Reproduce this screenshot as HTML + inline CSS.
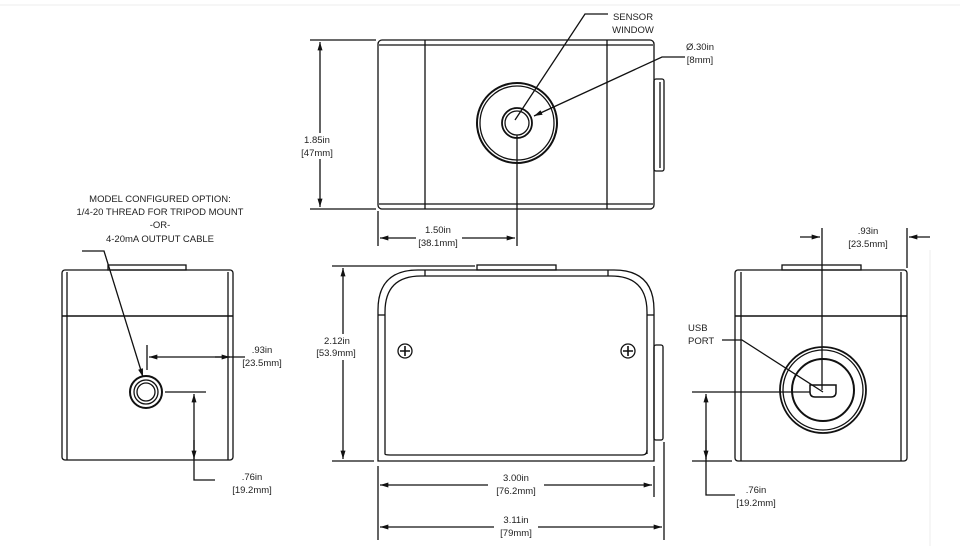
<!DOCTYPE html>
<html><head><meta charset="utf-8"><style>
html,body{margin:0;padding:0;background:#fff}
svg{display:block}
text{font-family:"Liberation Sans",Arial,sans-serif;font-size:9.5px;fill:#222}
</style></head><body>
<svg width="960" height="546" viewBox="0 0 960 546" xmlns="http://www.w3.org/2000/svg">
<defs>
<marker id="a" viewBox="0 0 10 6" refX="10" refY="3" markerWidth="9" markerHeight="5" orient="auto-start-reverse" markerUnits="userSpaceOnUse"><path d="M0,0L10,3L0,6z" fill="#111"/></marker>
</defs>
<g fill="none" stroke="#111" stroke-width="1.3">
<!-- TOP VIEW -->
<rect x="378" y="40" width="276" height="169" rx="4"/>
<line x1="379" y1="45" x2="653" y2="45"/>
<line x1="379" y1="204" x2="653" y2="204"/>
<line x1="425" y1="40" x2="425" y2="209"/>
<line x1="607" y1="40" x2="607" y2="209"/>
<rect x="654" y="79" width="10" height="92" rx="2"/>
<line x1="660" y1="82" x2="660" y2="168"/>
<circle cx="517" cy="123" r="40" stroke-width="2"/>
<circle cx="517" cy="123" r="37"/>
<circle cx="517" cy="123" r="15" stroke-width="1.8"/>
<circle cx="517" cy="123" r="12"/>
<!-- top dims -->
<line x1="310" y1="40" x2="376" y2="40"/>
<line x1="310" y1="209" x2="376" y2="209"/>
<line x1="320" y1="42" x2="320" y2="207" marker-start="url(#a)" marker-end="url(#a)"/>
<line x1="378" y1="211" x2="378" y2="246"/>
<line x1="517" y1="135" x2="517" y2="246"/>
<line x1="380" y1="238" x2="515" y2="238" marker-start="url(#a)" marker-end="url(#a)"/>
<polyline points="515,120 585,14 608,14"/>
<polyline points="685,57 662,57 534,116" marker-end="url(#a)"/>
<!-- FRONT VIEW -->
<path d="M378,461 L378,310 Q378,270 418,270 L614,270 Q654,270 654,310 L654,461 Z"/>
<path d="M385,454 L385,312 Q385,276 421,276 L611,276 Q647,276 647,312 L647,454"/>
<path d="M385,454 Q385,455 390,455 L642,455 Q647,455 647,450"/>
<line x1="378" y1="315" x2="385" y2="315"/>
<line x1="647" y1="315" x2="654" y2="315"/>
<line x1="425" y1="270" x2="425" y2="276"/>
<line x1="608" y1="270" x2="608" y2="276"/>
<rect x="477" y="265" width="79" height="5"/>
<rect x="654" y="345" width="9" height="95" rx="2"/>
<circle cx="405" cy="351" r="7"/><path d="M400,351h10M405,346v10" stroke-width="1.6"/>
<circle cx="628" cy="351" r="7"/><path d="M623,351h10M628,346v10" stroke-width="1.6"/>
<line x1="332" y1="266" x2="475" y2="266"/>
<line x1="332" y1="461" x2="374" y2="461"/>
<line x1="343" y1="268" x2="343" y2="459" marker-start="url(#a)" marker-end="url(#a)"/>
<line x1="378" y1="466" x2="378" y2="540"/>
<line x1="654" y1="466" x2="654" y2="497"/>
<line x1="664" y1="442" x2="664" y2="540"/>
<line x1="380" y1="485" x2="652" y2="485" marker-start="url(#a)" marker-end="url(#a)"/>
<line x1="380" y1="527" x2="662" y2="527" marker-start="url(#a)" marker-end="url(#a)"/>
<!-- LEFT VIEW -->
<rect x="62" y="270" width="171" height="190" rx="3"/>
<line x1="67" y1="272" x2="67" y2="460"/>
<line x1="228" y1="272" x2="228" y2="460"/>
<line x1="62" y1="316" x2="233" y2="316" stroke-width="1.6"/>
<rect x="108" y="265" width="78" height="5"/>
<circle cx="146" cy="392" r="16" stroke-width="2"/>
<circle cx="146" cy="392" r="12"/>
<circle cx="146" cy="392" r="9"/>
<polyline points="82,251 104,251 143,377" marker-end="url(#a)"/>
<line x1="147" y1="345" x2="147" y2="370"/>
<line x1="149" y1="357" x2="245" y2="357" marker-start="url(#a)"/>
<line x1="215" y1="357" x2="230" y2="357" marker-end="url(#a)"/>
<line x1="165" y1="392" x2="206" y2="392"/>
<polyline points="215,480 194,480 194,394" marker-end="url(#a)"/>
<line x1="194" y1="440" x2="194" y2="459" marker-end="url(#a)"/>
<!-- RIGHT VIEW -->
<rect x="735" y="270" width="172" height="191" rx="3"/>
<line x1="741" y1="272" x2="741" y2="461"/>
<line x1="901" y1="272" x2="901" y2="461"/>
<line x1="735" y1="316" x2="907" y2="316" stroke-width="1.6"/>
<rect x="782" y="265" width="79" height="5"/>
<circle cx="823" cy="390" r="43" stroke-width="1.8"/>
<circle cx="823" cy="390" r="40"/>
<circle cx="823" cy="390" r="31" stroke-width="2"/>
<path d="M810,385 h26 v7 q0,5 -5,5 h-16 q-5,0 -5,-5 z" stroke-width="1.5"/>
<line x1="822" y1="228" x2="822" y2="390"/>
<line x1="907" y1="228" x2="907" y2="268"/>
<line x1="800" y1="237" x2="820" y2="237" marker-end="url(#a)"/>
<line x1="930" y1="237" x2="909" y2="237" marker-end="url(#a)"/>
<polyline points="722,340 742,340 823,392"/>
<line x1="692" y1="392" x2="810" y2="392"/>
<line x1="692" y1="461" x2="732" y2="461"/>
<polyline points="735,495 706,495 706,394" marker-end="url(#a)"/>
<line x1="706" y1="440" x2="706" y2="459" marker-end="url(#a)"/>
</g>
<g stroke="#eee" stroke-width="1"><line x1="0" y1="5" x2="960" y2="5"/><line x1="930" y1="250" x2="930" y2="546"/></g>
<g fill="#fff">
<rect x="302" y="133" width="32" height="26"/>
<rect x="416" y="226" width="46" height="24"/>
<rect x="316" y="334" width="42" height="26"/>
<rect x="488" y="472" width="56" height="26"/>
<rect x="494" y="514" width="44" height="26"/>
</g>
<g text-anchor="middle">
<text x="317" y="143">1.85in</text><text x="317" y="156">[47mm]</text>
<text x="438" y="233">1.50in</text><text x="438" y="246">[38.1mm]</text>
<text x="633" y="20">SENSOR</text><text x="633" y="33">WINDOW</text>
<text x="700" y="50">Ø.30in</text><text x="700" y="63">[8mm]</text>
<text x="337" y="344">2.12in</text><text x="336" y="356">[53.9mm]</text>
<text x="516" y="481">3.00in</text><text x="516" y="494">[76.2mm]</text>
<text x="516" y="523">3.11in</text><text x="516" y="536">[79mm]</text>
<text x="160" y="202">MODEL CONFIGURED OPTION:</text>
<text x="160" y="215">1/4-20 THREAD FOR TRIPOD MOUNT</text>
<text x="160" y="228">-OR-</text>
<text x="160" y="242">4-20mA OUTPUT CABLE</text>
<text x="262" y="353">.93in</text><text x="262" y="366">[23.5mm]</text>
<text x="252" y="480">.76in</text><text x="252" y="493">[19.2mm]</text>
<text x="868" y="234">.93in</text><text x="868" y="247">[23.5mm]</text>
<text x="756" y="493">.76in</text><text x="756" y="506">[19.2mm]</text>
</g>
<text x="688" y="331">USB</text><text x="688" y="344">PORT</text>
</svg>
</body></html>
